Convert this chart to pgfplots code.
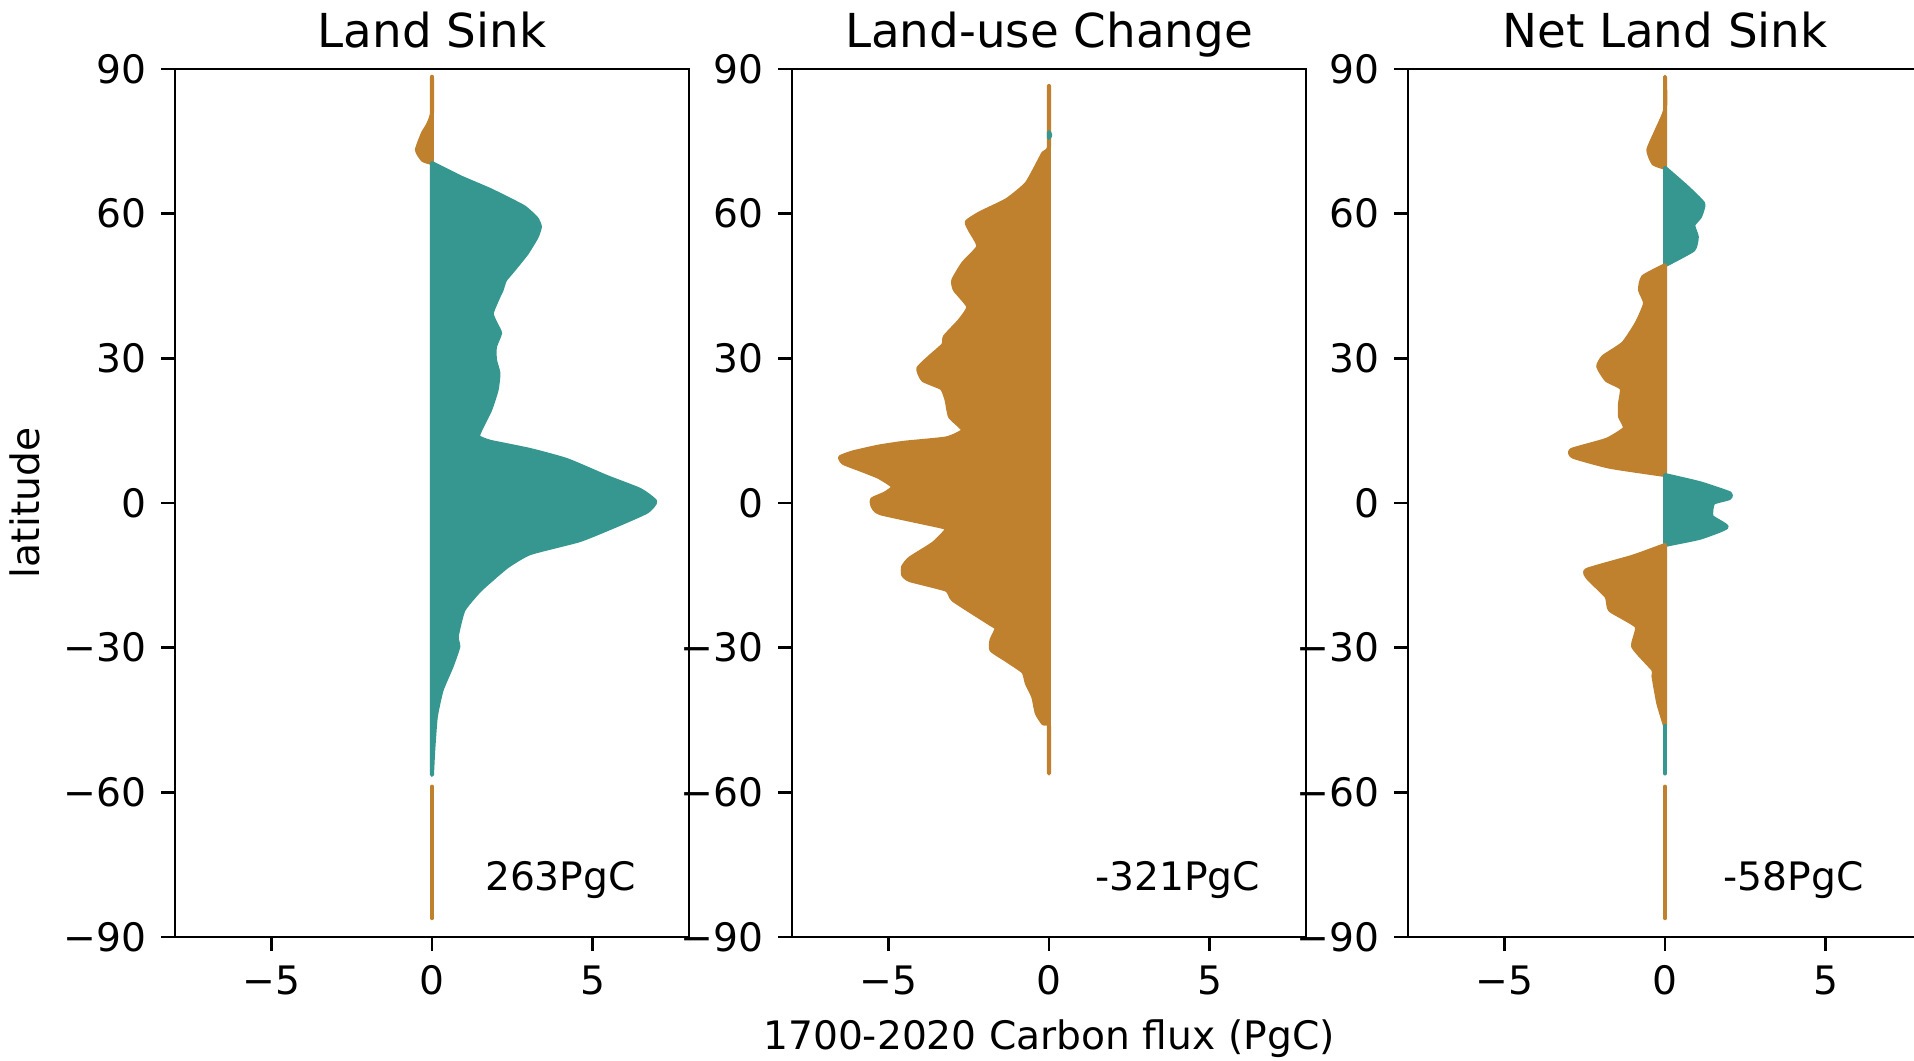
\documentclass[border=0pt]{standalone}
\usepackage{pgfplots}
\pgfplotsset{compat=1.18}
\usepackage{fontspec}
\setmainfont{DejaVu Sans}
\definecolor{sinkteal}{HTML}{35978F}
\definecolor{srcbrown}{HTML}{BF812D}
\tikzset{note/.style={anchor=base, font=\fontsize{9.8}{11}\selectfont}}
\pgfplotsset{
 panel/.style={
  scale only axis, width=128.5pt, height=217pt, anchor=south west,
  xmin=-8,xmax=8,ymin=-90,ymax=90,
  xtick={-5,0,5}, xticklabels={−5,0,5},
  ytick={-90,-60,-30,0,30,60,90}, yticklabels={−90,−60,−30,0,30,60,90},
  tick align=outside, tick pos=left,
  major tick length=3.5pt,
  line width=0.65pt,
  axis line style={line width=0.65pt},
  every tick/.style={black, line width=0.65pt},
  ticklabel style={font=\fontsize{9.8}{11}\selectfont},
  title style={font=\fontsize{11.7}{13}\selectfont, at={(0.5,1)}, anchor=base, yshift=-0.75pt, inner sep=0pt},
  label style={font=\fontsize{9.8}{11}\selectfont},
  ylabel shift=-1pt, xlabel shift=-1pt,
 },
 pos/.style={fill=sinkteal, draw=sinkteal, line width=1pt, line join=round, smooth, tension=0.3},
 neg/.style={fill=srcbrown, draw=srcbrown, line width=1pt, line join=round, smooth, tension=0.3},
}
\begin{document}
\begin{tikzpicture}
% ---------- Panel 1: Land Sink ----------
\begin{axis}[panel, at={(43.75pt,-234.25pt)}, title={Land Sink}, ylabel={latitude}]
\addplot[neg] coordinates {(0,88.4)(0,80.9)(-0.12,78.5)(-0.28,76.7)(-0.47,73.2)(-0.28,71.1)(0,70.5)} -- cycle;
\addplot[pos] coordinates {(0,70.5)(0.9,67.5)(1.81,64.9)(2.85,61.4)(3.25,59.0)(3.36,57.3)(3.26,55.2)(2.95,51.8)(2.53,48.3)(2.27,46.2)(2.17,44.2)(2.07,42.8)(1.86,39.3)(2.0,37.0)(2.12,35.2)(1.96,32.4)(1.96,29.7)(2.07,26.9)(2.01,23.4)(1.81,19.3)(1.50,15.1)(1.44,13.7)(1.81,12.7)(3.05,11.0)(4.20,8.9)(5.44,5.4)(6.48,2.7)(6.95,0.3)(6.69,-1.8)(5.75,-4.6)(4.6,-7.7)(3.05,-10.4)(2.33,-13.2)(1.50,-18.0)(0.98,-22.2)(0.77,-27.7)(0.82,-29.8)(0.61,-33.9)(0.30,-38.8)(0.12,-44.3)(0.04,-51.2)(0,-56.4)} -- cycle;
\addplot[neg] coordinates {(0,-58.8)(0,-86.1)} -- cycle;
\node[note] at (axis cs:4,-80.3) {263PgC};
\end{axis}
% ---------- Panel 2: Land-use Change ----------
\begin{axis}[panel, at={(198pt,-234.25pt)}, title={Land-use Change}, xlabel={1700-2020 Carbon flux (PgC)}]
\addplot[neg] coordinates {(0,86.5)(0,73.9)(-0.18,72.5)(-0.69,66.3)(-1.32,62.8)(-2.15,60.1)(-2.56,58.3)(-2.46,56.6)(-2.20,53.2)(-2.67,49.7)(-2.98,46.2)(-2.93,44.2)(-2.51,40.7)(-2.77,37.9)(-3.24,34.5)(-3.29,32.8)(-3.71,30.3)(-4.07,27.9)(-3.92,25.5)(-3.34,23.8)(-3.19,21.4)(-3.08,17.9)(-2.67,15.1)(-3.19,13.4)(-4.5,12.5)(-5.3,11.7)(-6.1,10.5)(-6.5,9.5)(-6.4,8.3)(-5.9,7.0)(-5.3,5.4)(-4.85,3.4)(-5.1,2.0)(-5.5,0.8)(-5.5,-0.5)(-5.26,-2.1)(-3.34,-4.9)(-3.19,-5.6)(-3.60,-8.4)(-4.33,-11.5)(-4.54,-13.2)(-4.54,-14.9)(-4.33,-16.0)(-3.19,-18.0)(-2.98,-20.1)(-1.84,-25.0)(-1.63,-26.0)(-1.79,-28.4)(-1.79,-30.5)(-1.32,-32.6)(-0.80,-35.0)(-0.69,-37.4)(-0.49,-40.2)(-0.38,-43.6)(-0.18,-45.7)(0,-46.2)(0,-56.1)} -- cycle;
\addplot[pos] coordinates {(0,76.9)(0.04,76.3)(0,75.7)} -- cycle;
\node[note] at (axis cs:4,-80.3) {-321PgC};
\end{axis}
% ---------- Panel 3: Net Land Sink ----------
\begin{axis}[panel, at={(352pt,-234.25pt)}, title={Net Land Sink}]
\addplot[neg] coordinates {(0,88.4)(0,81.5)(-0.26,77.3)(-0.52,73.2)(-0.36,70.4)(0,69.5)} -- cycle;
\addplot[pos] coordinates {(0,69.5)(0.67,65.6)(1.19,62.1)(1.09,59.4)(0.88,57.6)(0.99,55.2)(0.88,52.5)(0,49.3)} -- cycle;
\addplot[neg] coordinates {(0,49.3)(-0.68,46.9)(-0.78,44.2)(-0.62,41.4)(-0.88,37.3)(-1.30,33.1)(-1.92,30.3)(-2.08,28.3)(-1.82,25.5)(-1.35,23.8)(-1.40,20.7)(-1.40,17.9)(-1.25,15.5)(-1.82,13.1)(-2.91,11.0)(-2.86,9.6)(-1.71,7.5)(0,5.8)} -- cycle;
\addplot[pos] coordinates {(0,5.8)(1.09,4.1)(2.02,2.0)(2.0,1.0)(1.50,0.0)(1.45,-2.8)(1.92,-5.0)(1.09,-7.2)(0,-8.7)} -- cycle;
\addplot[neg] coordinates {(0,-8.7)(-0.99,-11.1)(-2.44,-13.9)(-2.39,-15.6)(-1.82,-19.4)(-1.71,-22.2)(-0.88,-25.6)(-0.99,-29.8)(-0.36,-34.6)(-0.36,-35.9)(-0.21,-41.5)(0,-46.2)} -- cycle;
\addplot[pos] coordinates {(0,-46.2)(0,-56.1)} -- cycle;
\addplot[neg] coordinates {(0,-58.8)(0,-86.1)} -- cycle;
\node[note] at (axis cs:4,-80.3) {-58PgC};
\end{axis}
\pgfresetboundingbox
\useasboundingbox (0,0) rectangle (478.5pt,-265pt);
\end{tikzpicture}
\end{document}
